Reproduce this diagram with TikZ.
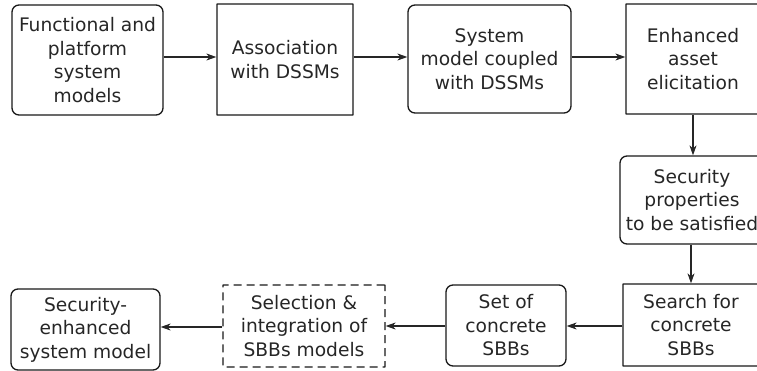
\documentclass[tikz,border=0pt]{standalone}
\usepackage{fontspec}
\setmainfont{DejaVu Sans}
\usetikzlibrary{arrows.meta}
\begin{document}
\begin{tikzpicture}[x=1pt,y=-1pt,
  every node/.style={font=\fontsize{18.65}{23.5}\selectfont, text=black!85, align=center, inner sep=0pt},
  box/.style={draw=black!90, line width=1.3pt, rounded corners=0.3pt},
  roundbox/.style={box, rounded corners=7pt},
  dashbox/.style={box, dash pattern=on 8pt off 5pt},
  flow/.style={draw=black!85, line width=1.1pt, -{Stealth[length=10pt,width=7pt,inset=3pt]}}
]
\useasboundingbox (0,0) rectangle (757,370);
\clip (0,0) rectangle (757,370);

% top row
\node[roundbox, minimum width=151pt, minimum height=110pt] (b1) at (87.5,60)
  {Functional and\\platform\\system\\models};
\node[box, minimum width=136pt, minimum height=111pt] (b2) at (285,59.5)
  {Association\\with DSSMs};
\node[roundbox, minimum width=163pt, minimum height=108pt] (b3) at (489.5,59)
  {System\\model coupled\\with DSSMs};
\node[box, minimum width=134pt, minimum height=110pt] (b4) at (693,59)
  {Enhanced\\asset\\elicitation};

% right column
\node[roundbox, minimum width=144pt, minimum height=88pt] (b5) at (692,200)
  {Security\\properties\\to be satisfied};
\node[box, minimum width=136pt, minimum height=82pt] (b6) at (691,325)
  {Search for\\concrete\\SBBs};

% bottom row
\node[roundbox, minimum width=120pt, minimum height=81pt] (b7) at (506,325.5)
  {Set of\\concrete\\SBBs};
\node[dashbox, minimum width=162pt, minimum height=82pt] (b8) at (304,326)
  {Selection \&\\integration of\\SBBs models};
\node[roundbox, minimum width=149pt, minimum height=81pt] (b9) at (85.5,329.5)
  {Security-\\enhanced\\system model};

% connectors
\draw[flow] (b1.east |- 0,57) -- (b2.west |- 0,57);
\draw[flow] (b2.east |- 0,57) -- (b3.west |- 0,57);
\draw[flow] (b3.east |- 0,57) -- (b4.west |- 0,57);
\draw[flow] (b4.south -| 693,0) -- (b5.north -| 693,0);
\draw[flow] (b5.south -| 691,0) -- (b6.north -| 691,0);
\draw[flow] (b6.west |- 0,326) -- (b7.east |- 0,326);
\draw[flow] (b7.west |- 0,326) -- (b8.east |- 0,326);
\draw[flow] (b8.west |- 0,327) -- (b9.east |- 0,327);
\end{tikzpicture}
\end{document}
